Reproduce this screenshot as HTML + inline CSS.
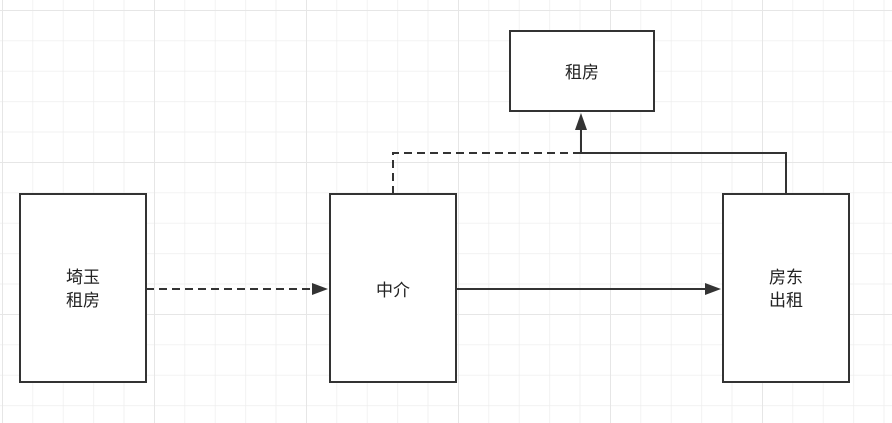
<!DOCTYPE html>
<html><head><meta charset="utf-8"><style>
html,body{margin:0;padding:0;background:#fff;}
svg{display:block;}
text{font-family:"Liberation Sans","Noto Sans CJK SC",sans-serif;font-size:17px;fill:#222;}
</style></head><body>
<svg width="892" height="423" xmlns="http://www.w3.org/2000/svg">
<defs>
<pattern id="g" x="2" y="10" width="30.4" height="30.4" patternUnits="userSpaceOnUse">
<path d="M0 0H30.4M0 0V30.4" stroke="#eeeeee" stroke-width="1.5" fill="none"/>
</pattern>
<pattern id="G" x="2" y="10" width="152" height="152" patternUnits="userSpaceOnUse">
<path d="M0 0H152M0 0V152" stroke="#e6e6e6" stroke-width="2" fill="none"/>
</pattern>
</defs>
<rect width="892" height="423" fill="url(#g)"/>
<rect width="892" height="423" fill="url(#G)"/>
<g stroke="#333" stroke-width="2" fill="#fff">
<rect x="20" y="194" width="126" height="188"/>
<rect x="330" y="194" width="126" height="188"/>
<rect x="723" y="194" width="126" height="188"/>
<rect x="510" y="31" width="144" height="80"/>
</g>
<g stroke="#333" stroke-width="2" fill="none">
<path d="M146 289H314" stroke-dasharray="8 5"/>
<path d="M456 289H707"/>
<path d="M393 194V153H581" stroke-dasharray="8 5"/>
<path d="M786 194V153H581V128"/>
</g>
<g fill="#333">
<path d="M328 289L312 283V295Z"/>
<path d="M721 289L705 283V295Z"/>
<path d="M581 113L575 130H587Z"/>
</g>
<text x="83" y="283" text-anchor="middle">埼玉</text>
<text x="83" y="306" text-anchor="middle">租房</text>
<text x="393" y="296" text-anchor="middle">中介</text>
<text x="786" y="283" text-anchor="middle">房东</text>
<text x="786" y="306" text-anchor="middle">出租</text>
<text x="582" y="78" text-anchor="middle">租房</text>
</svg>
</body></html>
